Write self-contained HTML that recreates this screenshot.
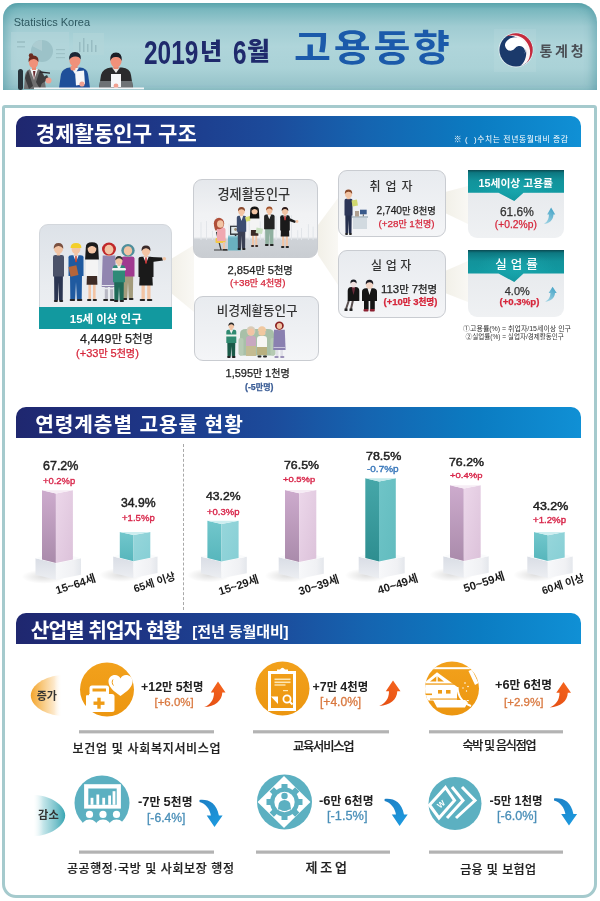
<!DOCTYPE html>
<html lang="ko"><head><meta charset="utf-8"><title>2019년 6월 고용동향</title>
<style>
*{box-sizing:border-box;margin:0;padding:0}
html,body{width:600px;height:901px;overflow:hidden;background:#fff}
body{position:relative;font-family:"Liberation Sans","Noto Sans CJK KR",sans-serif;color:#222}
.a{position:absolute}
.t{position:absolute;white-space:nowrap;line-height:1}
.kr{font-family:"Liberation Sans","Noto Sans CJK KR",sans-serif}
.hdr{left:3px;top:3px;width:594px;height:87px;border-radius:15px 19px 0 0;box-shadow:inset 9px 0 10px -5px rgba(60,140,152,0.45),inset -9px 0 10px -5px rgba(60,140,152,0.45);
 background:linear-gradient(to bottom,#5ea8af 0%,#78b7be 7%,#a0ccd2 27%,#afd5da 50%,#aad2d7 75%,#9ac6cc 92%,#93c1c8 100%);overflow:hidden}
.frame{left:2px;top:105px;width:595px;height:793px;border:3px solid #a5cacd;border-radius:3px 3px 14px 14px;background:#fff}
.bar{left:16px;width:565px;height:31px;border-radius:10px 10px 0 0;
 background:linear-gradient(to right,#1f276f 0%,#1e3585 22%,#1c4b9b 45%,#1564b0 62%,#0b7cc2 82%,#1090d5 100%)}
.pbox{border-radius:9px 9px 0 0;border:1px solid #d3d7dc;background:linear-gradient(to bottom,#dde2e8,#e9ecf0 60%,#eef0f3)}
.gbox{border-radius:9px;border:1.5px solid #c9ccd1;background:linear-gradient(to bottom,#e5e8ec 0%,#f1f2f4 45%,#f3f4f6 74%,#cfd3d8 77%,#c9cdd2 100%)}
.gbox2{border-radius:9px;border:1.5px solid #c9ccd1;background:linear-gradient(to bottom,#e8ebef 0%,#f4f5f7 100%)}
.rbox{border-radius:0 0 9px 9px;background:linear-gradient(to bottom,#e4e7eb,#eff1f3)}
.rhead{background:radial-gradient(ellipse 60% 80% at 50% 60%,rgba(40,190,195,0.35),rgba(40,190,195,0) 70%),linear-gradient(to bottom,#0a4a52 0%,#0d7881 9%,#12939b 35%,#1199a1 70%,#10929a 100%);clip-path:polygon(0 0,100% 0,100% 73.5%,57.8% 73.5%,48.2% 100%,31.8% 73.5%,0 73.5%)}
.vv{font-size:13px;font-weight:400;color:#222;-webkit-text-stroke:0.45px #222}
.vd{font-size:11px;font-weight:400;-webkit-text-stroke:0.35px currentColor}
.up{color:#d8264a}.dn{color:#3a78bb}
.lb{font-size:12px;color:#1a1a1a;font-weight:700;transform:rotate(-18deg);transform-origin:50% 50%}
.dg{font-size:1.1em}
.sw{-webkit-text-stroke:0.25px currentColor}
.nv{font-size:12px;font-weight:700;color:#222}
.pc{font-size:11px;-webkit-text-stroke:0.3px currentColor}
.po{color:#d9783f}.pb{color:#4a8fb8}
.il{font-size:13px;color:#222;-webkit-text-stroke:0.2px #222}
.bar .t{color:#fff;font-weight:700;font-size:20px;font-family:"Liberation Sans","Noto Sans CJK KR",sans-serif}
</style></head><body>

<!-- HEADER -->
<div class="a hdr">
<svg class="a" style="left:-3px;top:-3px" width="600" height="90">
 <!-- panels -->
 <rect x="11" y="32" width="58" height="38" fill="#b4d6da" opacity="0.55"/>
 <circle cx="42" cy="51" r="11" fill="#9cc2c8"/>
 <path d="M42,51 L42,40 A11,11 0 0,0 32,46 Z" fill="#acccd1"/>
 <rect x="17" y="41" width="8" height="2" fill="#9ec2c7"/><rect x="17" y="46" width="8" height="1.5" fill="#9ec2c7"/>
 <rect x="56" y="49" width="9" height="1.2" fill="#9ec2c7"/><rect x="56" y="53" width="9" height="1.2" fill="#9ec2c7"/><rect x="56" y="57" width="9" height="1.2" fill="#9ec2c7"/>
 <rect x="73" y="33" width="31" height="22" fill="#b2d5d9" opacity="0.6"/>
 <rect x="79" y="42" width="1.5" height="10" fill="#97bcc2"/><rect x="83" y="38" width="1.5" height="14" fill="#97bcc2"/><rect x="87" y="44" width="1.5" height="8" fill="#97bcc2"/><rect x="91" y="40" width="1.5" height="12" fill="#97bcc2"/><rect x="95" y="45" width="1.5" height="7" fill="#97bcc2"/>
 <!-- chair -->
 <rect x="18" y="69" width="5" height="21" rx="2.5" fill="#27333a"/>
 <!-- woman -->
 <path d="M24,89 L25,75 Q26,70 31,69 L37,69 Q43,70 44,76 L46,89 Z" fill="#6f6f70"/>
 <path d="M30,69 L34,80 L38,69 Z" fill="#f2f2f2"/>
 <path d="M33,71 L34,80 L35.5,71 Z" fill="#6a2a30"/>
 <path d="M28,70 L33,86 L29,89 L25,78 Z" fill="#3d3d3f"/>
 <path d="M40,70 L44,76 L40,89 L36,82 Z" fill="#3d3d3f"/>
 <rect x="32" y="64" width="4" height="6" fill="#e98a72"/>
 <ellipse cx="33.5" cy="62.5" rx="4.6" ry="5.5" fill="#f0917a"/>
 <path d="M28.5,62 Q28,55.5 33.5,55.5 Q39,55.5 38.5,62 Q36,58.5 33.5,59 Q30.5,59 28.5,62 Z" fill="#6b2b1f"/>
 <circle cx="31" cy="55.5" r="2.2" fill="#6b2b1f"/>
 <path d="M39,79 L47,75 L49,79 L41,84 Z" fill="#3d3d3f"/>
 <circle cx="48.5" cy="80.5" r="3" fill="#f0a090"/>
 <line x1="40" y1="72" x2="50" y2="73.2" stroke="#2a2a30" stroke-width="1.3"/>
 <!-- man 2 -->
 <path d="M59,88 L61,74 Q63,68 70,67.5 L80,67.5 Q87,68 88,74 L90,88 Z" fill="#1f4f99"/>
 <path d="M71,67.5 L75,74 L79,67.5 Z" fill="#f4f4f4"/>
 <rect x="72.5" y="62" width="5" height="6" fill="#e98a72"/>
 <ellipse cx="75" cy="60.5" rx="5.5" ry="6.3" fill="#f0917a"/>
 <path d="M69.3,60 Q68.5,52 75,52 Q81.5,52 80.8,59.5 Q79,56 75,56.5 Q71,56.5 69.3,60 Z" fill="#1c2634"/>
 <circle cx="73" cy="68" r="2.6" fill="#f0917a"/>
 <polygon points="75,71.5 84,70.5 85,84 76,85.5" fill="#f6f7f9"/>
 <circle cx="82" cy="84" r="2.6" fill="#f0a090"/>
 <!-- man 3 -->
 <path d="M99,88 L101,75 Q103,68 111,67.5 L122,67.5 Q130,68 131,75 L133,88 Z" fill="#2b2b2d"/>
 <path d="M99,88 L100,81 L132,81 L133,88 Z" fill="#6e7275"/>
 <path d="M112,67.5 L116,73 L120,67.5 Z" fill="#e9e9e9"/>
 <rect x="113.5" y="63" width="5" height="6" fill="#e98a72"/>
 <ellipse cx="116" cy="61" rx="5.6" ry="6.5" fill="#f0917a"/>
 <path d="M110.2,61 Q109.5,52.5 116,52.5 Q122.5,52.5 121.8,61 Q120,56.5 116,57 Q112,56.5 110.2,61 Z" fill="#1c1f27"/>
 <rect x="111" y="74" width="10" height="13" fill="#f6f7f9"/>
 <circle cx="116" cy="86" r="2.4" fill="#f0a090"/>
 <!-- table -->
 <rect x="34" y="87.5" width="110" height="1.8" fill="#f4f6f7"/>
</svg>
<div class="a" style="left:491px;top:26px;width:42px;height:43px;background:rgba(255,255,255,0.07)"></div>
<svg class="a" style="left:495px;top:29.4px" width="36" height="36" viewBox="-18 -18 36 36">
 <circle r="17.4" fill="#eef4f6" opacity="0.85"/>
 <circle r="16.6" fill="#1b3a6b"/>
 <path d="M-8.30,-14.38 A16.6,16.6 0 1 1 4.30,16.03 A17.39,17.39 0 0 0 -8.30,-14.38 Z" fill="#fbf4f4"/>
 <path d="M-9.52,-13.60 A16.6,16.6 0 0 1 10.67,12.72 A17.23,17.23 0 0 0 -9.52,-13.60 Z" fill="#c62a3c"/>
 <g transform="translate(-1,-1.7) rotate(35)"><path d="M-11,0 A11,11 0 0 1 11,0 A5.5,5.5 0 0 0 0,0 A5.5,5.5 0 0 1 -11,0 Z" fill="#fff"/></g>
</svg>
</div>
<div id="t1" class="t" style="left:13.65px;top:17.40px;font-size:11px;color:#2d5860">Statistics Korea</div>
<div id="t2" class="t" style="left:144.3px;top:35.5px;font-size:33.5px;font-weight:700;color:#1f2a6c;transform:scaleX(0.729);transform-origin:0 0">2019</div>
<div id="t2b" class="t kr" style="left:200px;top:40px;font-size:24px;font-weight:900;color:#1f2a6c;transform:scaleX(1.0);transform-origin:0 0">년</div>
<div id="t2c" class="t" style="left:232.5px;top:35.5px;font-size:33.5px;font-weight:700;color:#1f2a6c;transform:scaleX(0.729);transform-origin:0 0">6</div>
<div id="t2d" class="t kr" style="left:247px;top:38.6px;font-size:25.3px;font-weight:900;color:#1f2a6c;transform:scaleX(0.98);transform-origin:0 0">월</div>
<div id="t3" class="t kr" style="left:294px;top:31px;font-size:36.5px;font-weight:700;color:#1b5aaa;letter-spacing:2.5px;transform:scaleX(1.1);transform-origin:0 0">고용동향</div>
<div id="t4" class="t kr" style="left:539.50px;top:43.50px;font-size:14px;font-weight:700;color:#4a4f55;letter-spacing:2.7px">통계청</div>

<!-- FRAME -->
<div class="a frame"></div>

<div class="a bar" style="top:116px"><div id="t5" class="t" style="left:19.75px;top:6.50px;font-size:21.00px;letter-spacing:0.07px">경제활동인구 구조</div>
<div id="t6" class="t kr" style="left:437.80px;top:20.40px;font-size:7.8px;font-weight:400;letter-spacing:0.64px">※ (&nbsp;&nbsp;)수치는 전년동월대비 증감</div></div>

<!-- SECTION 1 -->
<svg class="a" style="left:0;top:150px" width="600" height="250">
 <defs>
  <linearGradient id="cn" x1="0" x2="1" y1="0" y2="0"><stop offset="0" stop-color="#f2f0e8"/><stop offset="1" stop-color="#f9f8f4"/></linearGradient>
 </defs>
 <polygon points="171,109 194,95 194,162 171,143" fill="url(#cn)"/>
 <polygon points="318,75 338,48 338,135 318,105" fill="url(#cn)"/>
 <polygon points="445,42 468,36 468,74 445,63" fill="url(#cn)"/>
 <polygon points="445,121 468,111 468,152 445,143" fill="url(#cn)"/>
</svg>

<div class="a pbox" style="left:39px;top:224px;width:133px;height:105px"></div>
<!-- PEOPLE1 -->
<svg class="a" style="left:0;top:0;pointer-events:none" width="600" height="400">
<path d="M54.1,275.4 L62.9,275.4 L62.7,300.5 L59.0,300.5 L58.5,282.5 L58.0,300.5 L54.3,300.5 Z" fill="#2b3552"/>
<rect x="53.9" y="300.0" width="4.0" height="2" rx="1" fill="#222"/>
<rect x="59.2" y="300.0" width="4.0" height="2" rx="1" fill="#222"/>
<path d="M53.0,276.4 L53.0,257.0 Q53.0,255.0 55.2,255.0 L61.8,255.0 Q64.0,255.0 64.0,257.0 L64.0,276.4 Z" fill="#4b5269"/>
<rect x="56.7" y="248.8" width="3.5" height="6.7" fill="#f2c4a4"/>
<ellipse cx="58.5" cy="248.8" rx="4.5" ry="5.0" fill="#f2c4a4"/>
<path d="M53.7,248.8 Q53.5,243.0 58.5,243.0 Q63.5,243.0 63.3,248.8 Q61.0,245.8 58.5,246.0 Q56.0,245.8 53.7,248.8 Z" fill="#7a5040"/>

<path d="M70.0,275.1 L82.0,275.1 L81.7,299.5 L76.8,299.5 L76.0,282.0 L75.2,299.5 L70.3,299.5 Z" fill="#1f5aa0"/>
<rect x="69.7" y="299.0" width="5.4" height="2" rx="1" fill="#222"/>
<rect x="76.9" y="299.0" width="5.4" height="2" rx="1" fill="#222"/>
<path d="M68.5,276.1 L68.5,257.2 Q68.5,255.2 71.5,255.2 L80.5,255.2 Q83.5,255.2 83.5,257.2 L83.5,276.1 Z" fill="#1f5aa0"/>
<path d="M73.3,255.2 L76.0,262.1 L78.7,255.2 Z" fill="#f4f4f4"/>
<path d="M75.3,255.7 L76.7,255.7 L76.9,261.5 L76.0,262.6 L75.1,261.5 Z" fill="#c23a2a"/>
<rect x="74.3" y="249.1" width="3.4" height="6.5" fill="#f2c4a4"/>
<ellipse cx="76.0" cy="249.1" rx="4.4" ry="4.9" fill="#f2c4a4"/>
<path d="M70.6,248.1 Q70.6,243.0 76.0,243.0 Q81.4,243.0 81.4,248.1 Z" fill="#f3cf2a"/>
<rect x="69.5" y="266" width="8" height="10" fill="#b5653a" transform="rotate(-12 73.5 271)"/>
<rect x="88.4" y="274.9" width="2.6" height="24.6" fill="#f2c4a4"/>
<rect x="93.0" y="274.9" width="2.6" height="24.6" fill="#f2c4a4"/>
<path d="M87.0,273.9 L97.0,273.9 L97.4,284.8 L86.6,284.8 Z" fill="#3d2b25"/>
<rect x="87.0" y="299.0" width="4.3" height="2" rx="1" fill="#222"/>
<rect x="92.7" y="299.0" width="4.3" height="2" rx="1" fill="#222"/>
<path d="M86.0,275.9 L86.0,256.8 Q86.0,254.8 88.4,254.8 L95.6,254.8 Q98.0,254.8 98.0,256.8 L98.0,275.9 Z" fill="#f4f4f4"/>
<rect x="90.3" y="248.7" width="3.5" height="6.6" fill="#f2c4a4"/>
<path d="M85.8,247.7 Q85.6,242.3 92.0,242.3 Q98.4,242.3 98.2,247.7 L98.9,259.5 L85.1,259.5 Z" fill="#1a1a1a"/>
<ellipse cx="92.0" cy="248.7" rx="4.4" ry="4.9" fill="#f2c4a4"/>
<path d="M87.3,248.7 Q87.1,243.0 92.0,243.0 Q96.9,243.0 96.7,248.7 Q94.5,245.7 92.0,246.0 Q89.5,245.7 87.3,248.7 Z" fill="#1a1a1a"/>

<rect x="104.8" y="285.0" width="3.1" height="14.5" fill="#b8b8c4"/>
<rect x="110.1" y="285.0" width="3.1" height="14.5" fill="#b8b8c4"/>
<path d="M102.7,255.6 L115.3,255.6 L116.3,287.0 L101.7,287.0 Z" fill="#9185b0"/>
<rect x="103.1" y="299.0" width="5.0" height="2" rx="1" fill="#222"/>
<rect x="109.8" y="299.0" width="5.0" height="2" rx="1" fill="#222"/>
<rect x="107.3" y="249.6" width="3.4" height="6.5" fill="#f2c4a4"/>
<ellipse cx="109.0" cy="249.1" rx="7.0" ry="6.5" fill="#c0282a"/>
<ellipse cx="109.0" cy="249.6" rx="4.4" ry="4.8" fill="#f2c4a4"/>
<rect x="101.5" y="288" width="15" height="1.2" fill="#e8e8f0"/><rect x="101.5" y="285" width="15" height="1" fill="#e8e8f0"/>
<path d="M122.8,275.5 L133.2,275.5 L132.9,298.5 L128.7,298.5 L128.0,282.0 L127.3,298.5 L123.1,298.5 Z" fill="#a39c7c"/>
<rect x="122.5" y="298.0" width="4.7" height="2" rx="1" fill="#222"/>
<rect x="128.8" y="298.0" width="4.7" height="2" rx="1" fill="#222"/>
<path d="M121.5,276.5 L121.5,258.5 Q121.5,256.5 124.1,256.5 L131.9,256.5 Q134.5,256.5 134.5,258.5 L134.5,276.5 Z" fill="#a03a90"/>
<rect x="126.4" y="250.8" width="3.2" height="6.2" fill="#f2c4a4"/>
<ellipse cx="128.0" cy="250.4" rx="6.7" ry="6.3" fill="#4f8f9c"/>
<ellipse cx="128.0" cy="250.8" rx="4.2" ry="4.6" fill="#f2c4a4"/>

<path d="M114.2,281.3 L123.8,281.3 L123.6,300.5 L119.6,300.5 L119.0,286.8 L118.4,300.5 L114.4,300.5 Z" fill="#1f6a58"/>
<rect x="114.0" y="300.0" width="4.3" height="2" rx="1" fill="#222"/>
<rect x="119.7" y="300.0" width="4.3" height="2" rx="1" fill="#222"/>
<path d="M113.0,282.3 L113.0,267.3 Q113.0,265.3 115.4,265.3 L122.6,265.3 Q125.0,265.3 125.0,267.3 L125.0,282.3 Z" fill="#2f8a78"/>
<path d="M116.8,265.3 L119.0,270.8 L121.2,265.3 Z" fill="#f4f4f4"/>
<rect x="117.6" y="260.5" width="2.7" height="5.3" fill="#f2c4a4"/>
<ellipse cx="119.0" cy="260.5" rx="3.5" ry="3.9" fill="#f2c4a4"/>
<path d="M115.3,260.5 Q115.1,256.0 119.0,256.0 Q122.9,256.0 122.7,260.5 Q121.0,258.2 119.0,258.3 Q117.0,258.2 115.3,260.5 Z" fill="#333"/>
<rect x="112" y="268" width="14" height="2.5" rx="1.2" fill="#f2f2f2"/>
<rect x="141.5" y="276.0" width="3.3" height="23.5" fill="#f2c4a4"/>
<rect x="147.2" y="276.0" width="3.3" height="23.5" fill="#f2c4a4"/>
<path d="M139.7,275.0 L152.3,275.0 L152.8,285.5 L139.2,285.5 Z" fill="#1a1a1a"/>
<rect x="139.7" y="299.0" width="5.4" height="2" rx="1" fill="#222"/>
<rect x="146.9" y="299.0" width="5.4" height="2" rx="1" fill="#222"/>
<path d="M138.5,277.0 L138.5,258.8 Q138.5,256.8 141.5,256.8 L150.5,256.8 Q153.5,256.8 153.5,258.8 L153.5,277.0 Z" fill="#1a1a1a"/>
<path d="M143.3,256.8 L146.0,263.4 L148.7,256.8 Z" fill="#f4f4f4"/>
<path d="M145.3,257.3 L146.7,257.3 L146.9,262.9 L146.0,264.0 L145.1,262.9 Z" fill="#c0282a"/>
<rect x="144.3" y="250.9" width="3.3" height="6.3" fill="#f2c4a4"/>
<ellipse cx="146.0" cy="250.9" rx="4.2" ry="4.7" fill="#f2c4a4"/>
<path d="M141.5,250.9 Q141.3,245.5 146.0,245.5 Q150.7,245.5 150.5,250.9 Q148.4,248.1 146.0,248.3 Q143.6,248.1 141.5,250.9 Z" fill="#3a2a2a"/>
<path d="M151,257 L162,257.5 L163,260.5 L152,262 Z" fill="#1a1a1a"/><circle cx="164.3" cy="258.8" r="1.8" fill="#f2c4a4"/>
</svg>
<!-- /PEOPLE1 -->
<div class="a" style="left:38.5px;top:307.2px;width:133.5px;height:21.6px;background:#12999f"></div>
<div id="t7" class="t kr" style="left:69.75px;top:314.20px;font-size:11.49px;font-weight:700;color:#fff;transform:none;transform-origin:0 0">15세 이상 인구</div>
<div id="t8" class="t sw" style="left:80.00px;top:332.75px;font-size:11.41px;color:#222;transform:none;transform-origin:0 0"><span class="dg">4,449</span>만 <span class="dg">5</span>천명</div>
<div id="t9" class="t sw" style="left:76.00px;top:347.75px;font-size:10.06px;color:#d6263b;transform:none;transform-origin:0 0"><span class="dg">(+33</span>만 <span class="dg">5</span>천명<span class="dg">)</span></div>

<div class="a gbox" style="left:193px;top:179px;width:125px;height:79px"></div>
<div id="t10" class="t kr" style="left:217.45px;top:187.80px;font-size:13.20px;color:#333;font-weight:500;transform:none;transform-origin:0 0">경제활동인구</div>
<div id="t11" class="t sw" style="left:227.50px;top:264.50px;font-size:10.19px;color:#222;transform:none;transform-origin:0 0"><span class="dg">2,854</span>만 <span class="dg">5</span>천명</div>
<div id="t12" class="t sw" style="left:230.00px;top:278.00px;font-size:8.90px;color:#d6263b;transform:none;transform-origin:0 0"><span class="dg">(+38</span>만 <span class="dg">4</span>천명<span class="dg">)</span></div>

<div class="a gbox2" style="left:194px;top:296px;width:125px;height:65px"></div>
<div id="t13" class="t kr" style="left:216.85px;top:305.20px;font-size:12.56px;color:#333;font-weight:500;transform:none;transform-origin:0 0">비경제활동인구</div>
<div id="t14" class="t sw" style="left:225.50px;top:367.50px;font-size:10.02px;font-weight:400;color:#222;transform:none;transform-origin:0 0"><span class="dg">1,595</span>만 <span class="dg">1</span>천명</div>
<div id="t15" class="t sw" style="left:245.00px;top:382.50px;font-size:8.01px;font-weight:700;color:#3b5d96;transform:none;transform-origin:0 0"><span class="dg">(-5</span>만명<span class="dg">)</span></div>

<div class="a gbox2" style="left:338px;top:170px;width:108px;height:67px"></div>
<div id="t16" class="t kr" style="left:369.50px;top:181.00px;font-size:12px;color:#333;letter-spacing:5.00px;font-weight:500">취업자</div>
<div id="t17" class="t sw" style="left:376.50px;top:206.25px;font-size:9.26px;color:#222;transform:none;transform-origin:0 0"><span class="dg">2,740</span>만 <span class="dg">8</span>천명</div>
<div id="t18" class="t sw" style="left:378.50px;top:219.00px;font-size:8.99px;color:#d6263b;transform:none;transform-origin:0 0"><span class="dg">(+28</span>만 <span class="dg">1</span>천명<span class="dg">)</span></div>

<div class="a gbox2" style="left:338px;top:250px;width:108px;height:68px"></div>
<div id="t19" class="t kr" style="left:371.10px;top:260.00px;font-size:12px;color:#333;letter-spacing:3.60px;font-weight:500">실업자</div>
<div id="t20" class="t sw" style="left:381.00px;top:283.50px;font-size:10.38px;color:#222;transform:none;transform-origin:0 0"><span class="dg">113</span>만 <span class="dg">7</span>천명</div>
<div id="t21" class="t sw" style="left:383.50px;top:296.50px;font-size:8.65px;font-weight:700;color:#d6263b;transform:none;transform-origin:0 0"><span class="dg">(+10</span>만 <span class="dg">3</span>천명<span class="dg">)</span></div>

<div class="a rbox" style="left:468px;top:170px;width:96px;height:68px"></div>
<div class="a rhead" style="left:468px;top:170px;width:96px;height:31px"></div>
<div id="t22" class="t kr" style="left:478.55px;top:177.75px;font-size:10.77px;font-weight:700;color:#fff;transform:none;transform-origin:0 0">15세이상 고용률</div>
<div id="t23" class="t sw" style="left:500.00px;top:207.00px;font-size:11.91px;color:#333;transform:none;transform-origin:0 0">61.6%</div>
<div id="t24" class="t sw" style="left:494.75px;top:220.00px;font-size:10.30px;color:#d6263b;transform:none;transform-origin:0 0">(+0.2%p)</div>

<div class="a rbox" style="left:468px;top:250px;width:96px;height:67px"></div>
<div class="a rhead" style="left:468px;top:250px;width:96px;height:32px"></div>
<div id="t25" class="t kr" style="left:495.25px;top:258.50px;font-size:12.5px;font-weight:500;color:#fff;letter-spacing:4.00px">실업률</div>
<div id="t26" class="t sw" style="left:504.75px;top:285.75px;font-size:10.97px;color:#333;transform:none;transform-origin:0 0">4.0%</div>
<div id="t27" class="t sw" style="left:499.50px;top:296.50px;font-size:9.63px;font-weight:700;color:#d6263b;transform:none;transform-origin:0 0">(+0.3%p)</div>

<svg class="a" style="left:0;top:0;pointer-events:none" width="600" height="400">
 <defs><linearGradient id="lbA" x1="0" y1="1" x2="0.6" y2="0"><stop offset="0" stop-color="#a8d8e6"/><stop offset="1" stop-color="#4aa6c8"/></linearGradient>
 <path id="aup2" d="M0,0 L7.5,10.8 L4.3,10.8 C4,19 -3,25 -13.8,25.5 C-8,23 -4,18.5 -4,10.8 L-7.2,10.8 Z"/></defs>
 <use href="#aup2" transform="translate(551.1,207.5) scale(0.55,0.65)" fill="url(#lbA)"/>
 <use href="#aup2" transform="translate(552.6,286.7) scale(0.55,0.59)" fill="url(#lbA)"/>
</svg>
<!-- PEOPLE2 -->
<svg class="a" style="left:0;top:0;pointer-events:none" width="600" height="400">
<rect x="200.5" y="222.2" width="1" height="17.8" fill="#e2e5e9"/>
<rect x="206.0" y="221.1" width="1" height="18.9" fill="#e2e5e9"/>
<rect x="211.9" y="230.8" width="1" height="9.2" fill="#e2e5e9"/>
<rect x="215.9" y="216.9" width="1" height="23.1" fill="#e2e5e9"/>
<rect x="221.7" y="227.8" width="1" height="12.2" fill="#e2e5e9"/>
<rect x="228.5" y="223.5" width="1" height="16.5" fill="#e2e5e9"/>
<rect x="233.5" y="223.4" width="1" height="16.6" fill="#e2e5e9"/>
<rect x="238.4" y="229.3" width="1" height="10.7" fill="#e2e5e9"/>
<rect x="243.7" y="216.4" width="1" height="23.6" fill="#e2e5e9"/>
<rect x="248.7" y="218.7" width="1" height="21.3" fill="#e2e5e9"/>
<rect x="254.3" y="230.8" width="1" height="9.2" fill="#e2e5e9"/>
<rect x="259.8" y="221.4" width="1" height="18.6" fill="#e2e5e9"/>
<rect x="264.2" y="231.4" width="1" height="8.6" fill="#e2e5e9"/>
<rect x="270.6" y="223.5" width="1" height="16.5" fill="#e2e5e9"/>
<rect x="275.6" y="216.2" width="1" height="23.8" fill="#e2e5e9"/>
<rect x="280.9" y="215.4" width="1" height="24.6" fill="#e2e5e9"/>
<rect x="285.6" y="217.6" width="1" height="22.4" fill="#e2e5e9"/>
<rect x="291.0" y="215.2" width="1" height="24.8" fill="#e2e5e9"/>
<rect x="297.2" y="230.2" width="1" height="9.8" fill="#e2e5e9"/>
<rect x="301.0" y="228.1" width="1" height="11.9" fill="#e2e5e9"/>
<rect x="307.9" y="224.1" width="1" height="15.9" fill="#e2e5e9"/>
<rect x="312.6" y="226.6" width="1" height="13.4" fill="#e2e5e9"/>
<path d="M216.5,232 L221,250 M214,250 L228,250" stroke="#3a3a3a" stroke-width="1.2" fill="none"/>
<rect x="215.5" y="238" width="10" height="5" rx="1" fill="#f2c84a"/>
<path d="M217,241 L217,230 Q217,227.5 220,227.5 L223,227.5 Q225.5,227.5 225.5,230 L225.5,241 Z" fill="#f0a8b0"/>
<rect x="223" y="242" width="2" height="8" fill="#f2c4a4"/><rect x="223" y="249" width="4" height="1.5" fill="#333"/>
<ellipse cx="219" cy="223.5" rx="5.2" ry="5.8" fill="#b0503a"/><ellipse cx="220.3" cy="224" rx="3.3" ry="3.8" fill="#f2c4a4"/><path d="M214.2,224 Q214,229 216,231 L218,228 Z" fill="#b0503a"/>
<rect x="228" y="235.8" width="13" height="14.7" fill="#6ab0c0"/><rect x="228" y="235.8" width="13" height="1.5" fill="#8fcad6"/>
<rect x="230" y="225.7" width="11.2" height="9.2" fill="#2f3338"/><rect x="231.2" y="226.9" width="8.8" height="6.6" fill="#dfe9ea"/><circle cx="235.6" cy="229.5" r="1.4" fill="#9a8a70"/><rect x="234.8" y="234.6" width="1.6" height="1.5" fill="#2f3338"/>
<path d="M237.7,230.7 L245.3,230.7 L245.1,248.5 L242.0,248.5 L241.5,235.8 L241.0,248.5 L237.9,248.5 Z" fill="#3a3f52"/>
<rect x="237.5" y="248.0" width="3.4" height="2" rx="1" fill="#222"/>
<rect x="242.1" y="248.0" width="3.4" height="2" rx="1" fill="#222"/>
<path d="M236.8,231.7 L236.8,217.7 Q236.8,215.7 238.7,215.7 L244.3,215.7 Q246.2,215.7 246.2,217.7 L246.2,231.7 Z" fill="#3c4d70"/>
<path d="M239.8,215.7 L241.5,220.9 L243.2,215.7 Z" fill="#f4f4f4"/>
<rect x="240.2" y="211.2" width="2.6" height="5.0" fill="#f2c4a4"/>
<ellipse cx="241.5" cy="211.2" rx="3.3" ry="3.7" fill="#f2c4a4"/>
<path d="M238.0,211.2 Q237.8,207.0 241.5,207.0 Q245.2,207.0 245.0,211.2 Q243.3,209.0 241.5,209.2 Q239.7,209.0 238.0,211.2 Z" fill="#8a4a30"/>
<rect x="245.5" y="216.5" width="6" height="4.5" fill="#d8e070" transform="rotate(-15 248.5 218.7)"/>
<rect x="252.0" y="229.0" width="1.9" height="16.5" fill="#f2c4a4"/>
<rect x="255.3" y="229.0" width="1.9" height="16.5" fill="#f2c4a4"/>
<path d="M251.0,228.0 L258.2,228.0 L258.4,235.8 L250.8,235.8 Z" fill="#3a2a25"/>
<rect x="251.0" y="245.0" width="3.1" height="2" rx="1" fill="#3a2a25"/>
<rect x="255.1" y="245.0" width="3.1" height="2" rx="1" fill="#3a2a25"/>
<path d="M250.3,230.0 L250.3,217.1 Q250.3,215.1 252.0,215.1 L257.1,215.1 Q258.9,215.1 258.9,217.1 L258.9,230.0 Z" fill="#f4f4f4"/>
<rect x="253.4" y="210.9" width="2.4" height="4.7" fill="#f2c4a4"/>
<path d="M250.3,210.2 Q250.2,206.5 254.6,206.5 Q259.0,206.5 258.9,210.2 L259.4,218.4 L249.8,218.4 Z" fill="#111"/>
<ellipse cx="254.6" cy="210.9" rx="3.1" ry="3.4" fill="#f2c4a4"/>
<path d="M251.4,210.9 Q251.2,207.0 254.6,207.0 Q258.0,207.0 257.8,210.9 Q256.3,208.9 254.6,209.0 Q252.9,208.9 251.4,210.9 Z" fill="#111"/>

<path d="M265.1,228.2 L273.5,228.2 L273.3,244.5 L269.8,244.5 L269.3,233.0 L268.8,244.5 L265.3,244.5 Z" fill="#90b0a0"/>
<rect x="264.9" y="244.0" width="3.8" height="2" rx="1" fill="#222"/>
<rect x="269.9" y="244.0" width="3.8" height="2" rx="1" fill="#222"/>
<path d="M264.1,229.2 L264.1,216.5 Q264.1,214.5 266.2,214.5 L272.4,214.5 Q274.6,214.5 274.6,216.5 L274.6,229.2 Z" fill="#242424"/>
<path d="M267.4,214.5 L269.3,219.2 L271.2,214.5 Z" fill="#f0f0f0"/>
<rect x="268.1" y="210.4" width="2.4" height="4.6" fill="#f2c4a4"/>
<ellipse cx="269.3" cy="210.4" rx="3.0" ry="3.4" fill="#f2c4a4"/>
<path d="M266.1,210.4 Q265.9,206.5 269.3,206.5 Q272.7,206.5 272.5,210.4 Q271.0,208.3 269.3,208.5 Q267.6,208.3 266.1,210.4 Z" fill="#a0502a"/>
<rect x="256" y="228" width="6.5" height="5.5" fill="#c8e0c0" transform="rotate(10 259 231)"/>
<rect x="282.1" y="229.6" width="2.1" height="16.9" fill="#f2c4a4"/>
<rect x="285.8" y="229.6" width="2.1" height="16.9" fill="#f2c4a4"/>
<path d="M281.0,228.6 L289.0,228.6 L289.3,236.5 L280.7,236.5 Z" fill="#1a1a1a"/>
<rect x="281.0" y="246.0" width="3.4" height="2" rx="1" fill="#222"/>
<rect x="285.6" y="246.0" width="3.4" height="2" rx="1" fill="#222"/>
<path d="M280.2,230.6 L280.2,217.3 Q280.2,215.3 282.1,215.3 L287.9,215.3 Q289.8,215.3 289.8,217.3 L289.8,230.6 Z" fill="#1a1a1a"/>
<path d="M283.3,215.3 L285.0,220.2 L286.7,215.3 Z" fill="#f4f4f4"/>
<path d="M284.3,215.8 L285.7,215.8 L285.9,219.8 L285.0,220.6 L284.1,219.8 Z" fill="#b02a2a"/>
<rect x="283.8" y="211.0" width="2.4" height="4.8" fill="#f2c4a4"/>
<ellipse cx="285.0" cy="211.0" rx="3.1" ry="3.5" fill="#f2c4a4"/>
<path d="M281.7,211.0 Q281.5,207.0 285.0,207.0 Q288.5,207.0 288.3,211.0 Q286.7,208.9 285.0,209.1 Q283.3,208.9 281.7,211.0 Z" fill="#2a1a1a"/>
<path d="M289.5,218 L296,221 L295,223 L289,221 Z" fill="#1a1a1a"/><circle cx="297" cy="221.5" r="1.4" fill="#f2c4a4"/>
<path d="M227.3,342.0 L235.3,342.0 L235.1,356.5 L231.8,356.5 L231.3,346.3 L230.8,356.5 L227.5,356.5 Z" fill="#1a5a48"/>
<rect x="227.1" y="356.0" width="3.6" height="2" rx="1" fill="#222"/>
<rect x="231.9" y="356.0" width="3.6" height="2" rx="1" fill="#222"/>
<path d="M226.3,343.0 L226.3,331.7 Q226.3,329.7 228.3,329.7 L234.3,329.7 Q236.3,329.7 236.3,331.7 L236.3,343.0 Z" fill="#2f8a70"/>
<path d="M229.5,329.7 L231.3,334.0 L233.1,329.7 Z" fill="#f2f2f2"/>
<rect x="230.2" y="326.0" width="2.1" height="4.2" fill="#f2c4a4"/>
<ellipse cx="231.3" cy="326.0" rx="2.7" ry="3.0" fill="#f2c4a4"/>
<path d="M228.4,326.0 Q228.3,322.5 231.3,322.5 Q234.3,322.5 234.2,326.0 Q232.8,324.2 231.3,324.3 Q229.8,324.2 228.4,326.0 Z" fill="#2a2a2a"/>
<rect x="224" y="334.5" width="15" height="2" rx="1" fill="#eef4ee"/>
<path d="M240,355.5 L240,334 Q240,329 246,329 L268,329 Q274,329 274,334 L274,355.5 Z" fill="#a8c0a8"/>
<rect x="238.5" y="338" width="5" height="17.5" rx="2" fill="#b6cbb4"/><rect x="270.5" y="338" width="5" height="17.5" rx="2" fill="#b6cbb4"/>
<rect x="246" y="345" width="10" height="11" fill="#c4bc92"/><path d="M246,346 L246,339 Q246,336 249,336 L253,336 Q256,336 256,339 L256,346 Z" fill="#c8a8c0"/>
<ellipse cx="251" cy="331" rx="4.4" ry="4.8" fill="#d8ccb8"/><ellipse cx="251" cy="332" rx="3.2" ry="3.6" fill="#f2c4a4"/>
<rect x="257" y="346" width="10" height="9" fill="#b8b080"/><path d="M257,347 L257,339 Q257,336 260,336 L264,336 Q267,336 267,339 L267,347 Z" fill="#f6f6f4"/>
<ellipse cx="262" cy="331" rx="4.2" ry="4.8" fill="#f0c8a0"/><path d="M257.9,331 Q258,334 259,335 L259,331 Z M266.1,331 Q266,334 265,335 L265,331 Z" fill="#c8c0b0"/>
<rect x="257.5" y="355.5" width="4" height="2" rx="1" fill="#2a2a2a"/><rect x="263" y="355.5" width="4" height="2" rx="1" fill="#2a2a2a"/>
<rect x="275.8" y="348.1" width="2.6" height="8.4" fill="#e0e0e8"/>
<rect x="280.4" y="348.1" width="2.6" height="8.4" fill="#e0e0e8"/>
<path d="M274.0,329.7 L284.8,329.7 L285.6,350.1 L273.2,350.1 Z" fill="#8a80b0"/>
<rect x="274.4" y="356.0" width="4.3" height="2" rx="1" fill="#9a90b8"/>
<rect x="280.1" y="356.0" width="4.3" height="2" rx="1" fill="#9a90b8"/>
<rect x="278.3" y="326.0" width="2.1" height="4.2" fill="#f2c4a4"/>
<ellipse cx="279.4" cy="325.7" rx="4.4" ry="4.1" fill="#8a2020"/>
<ellipse cx="279.4" cy="326.0" rx="2.7" ry="3.0" fill="#f2c4a4"/>
<rect x="273.5" y="347" width="12" height="1" fill="#c8c4dc"/>
<rect x="352" y="216" width="16" height="2" fill="#b8c4cc"/><rect x="353" y="218" width="14" height="11" fill="#d2dae0"/><rect x="355" y="211" width="4" height="5.5" fill="#b0a090"/><rect x="360" y="209.7" width="6.7" height="4.6" fill="#3a5a8a"/><rect x="362.8" y="214.3" width="1" height="2" fill="#555"/>
<path d="M345.3,214.5 L351.7,214.5 L351.5,233.5 L348.9,233.5 L348.5,220.0 L348.1,233.5 L345.5,233.5 Z" fill="#26304e"/>
<rect x="345.1" y="233.0" width="2.9" height="2" rx="1" fill="#222"/>
<rect x="349.0" y="233.0" width="2.9" height="2" rx="1" fill="#222"/>
<path d="M344.5,215.5 L344.5,200.7 Q344.5,198.7 346.1,198.7 L350.9,198.7 Q352.5,198.7 352.5,200.7 L352.5,215.5 Z" fill="#2c3658"/>
<rect x="347.1" y="193.9" width="2.7" height="5.3" fill="#f2c4a4"/>
<ellipse cx="348.5" cy="193.9" rx="3.5" ry="3.9" fill="#f2c4a4"/>
<path d="M344.8,193.9 Q344.6,189.5 348.5,189.5 Q352.4,189.5 352.2,193.9 Q350.4,191.6 348.5,191.8 Q346.6,191.6 344.8,193.9 Z" fill="#8a4a2a"/>
<rect x="352" y="200" width="5.5" height="6" fill="#d0d870" transform="rotate(-10 354.7 203)"/>
<path d="M349,300 L346,309 M353,300 L351,309" stroke="#5a5050" stroke-width="2" fill="none"/><rect x="344.5" y="308.5" width="3" height="2.5" fill="#222"/><rect x="349.5" y="308.5" width="3" height="2.5" fill="#222"/>
<path d="M347.7,301 L347.7,291 Q347.7,287 351.5,287 L355.5,287 Q359.3,287 359.3,291 L359.3,301 Z" fill="#151515"/><path d="M351.5,287 L353.5,295 L355.5,287 Z" fill="#6a2a3a"/>
<rect x="352.3" y="285" width="2.4" height="2.5" fill="#f0e0e0"/><ellipse cx="353.5" cy="283.5" rx="3" ry="3.6" fill="#f0e0e0"/><path d="M350.5,283.5 Q350,279.5 353.5,279.5 Q357,279.5 356.6,283.5 Q355,281.5 353.5,281.8 Q352,281.5 350.5,283.5 Z" fill="#1a1a22"/>
<rect x="364" y="300" width="4.6" height="9.5" fill="#151515"/><rect x="370.2" y="300" width="4.6" height="9.5" fill="#151515"/><rect x="363.5" y="309" width="5" height="2.5" rx="1" fill="#8a2030"/><rect x="369.8" y="309" width="5" height="2.5" rx="1" fill="#8a2030"/>
<path d="M362,301 L362,292 Q362,288.3 366,288.3 L373,288.3 Q377,288.3 377,292 L377,301 Z" fill="#151515"/><path d="M367.5,288.3 L369.5,295 L371.5,288.3 Z" fill="#f0f0f0"/>
<rect x="368.3" y="286" width="2.4" height="3" fill="#f2d4c4"/><ellipse cx="369.5" cy="284.5" rx="3.6" ry="4.3" fill="#f2d4c4"/><path d="M365.8,284.5 Q365.3,279.7 369.5,279.7 Q373.7,279.7 373.2,284.5 Q371.5,282 369.5,282.3 Q367.5,282 365.8,284.5 Z" fill="#1a1a22"/>
</svg>
<!-- /PEOPLE2 -->
<div id="t28" class="t kr" style="left:463.10px;top:325.60px;font-size:6.97px;color:#333">①고용률(%) = 취업자/15세이상 인구</div>
<div id="t29" class="t kr" style="left:465.60px;top:333.80px;font-size:6.56px;color:#333">②실업률(%) = 실업자/경제활동인구</div>
<div class="a bar" style="top:407px"><div id="t30" class="t" style="left:19.25px;top:7.75px;font-size:20.24px;letter-spacing:0.92px">연령계층별 고용률 현황</div></div>

<!-- SECTION 2 -->
<div class="a" style="left:183px;top:444px;width:0;height:166px;border-left:1.2px dashed #a8a8a8"></div>
<!-- BARS -->
<svg class="a" style="left:0;top:0;pointer-events:none" width="600" height="620">
<defs>
<linearGradient id="pkL" x1="0" y1="0" x2="0" y2="1"><stop offset="0" stop-color="#cdabcd"/><stop offset="1" stop-color="#aa8bab"/></linearGradient>
<linearGradient id="pkR" x1="0" y1="0" x2="1" y2="1"><stop offset="0" stop-color="#ecd7ea"/><stop offset="1" stop-color="#dcc2da"/></linearGradient>
<linearGradient id="cyL" x1="0" y1="0" x2="0" y2="1"><stop offset="0" stop-color="#72c7cc"/><stop offset="1" stop-color="#57b6bc"/></linearGradient>
<linearGradient id="cyR" x1="0" y1="0" x2="1" y2="1"><stop offset="0" stop-color="#97d6db"/><stop offset="1" stop-color="#86cfd5"/></linearGradient>
<linearGradient id="dtL" x1="0" y1="0" x2="0" y2="1"><stop offset="0" stop-color="#46a7a9"/><stop offset="1" stop-color="#2e8e90"/></linearGradient>
<linearGradient id="dtR" x1="0" y1="0" x2="1" y2="1"><stop offset="0" stop-color="#6fc4c7"/><stop offset="1" stop-color="#62bcbf"/></linearGradient>
<linearGradient id="pdL" x1="0" y1="0" x2="0" y2="1"><stop offset="0" stop-color="#d9dde5"/><stop offset="1" stop-color="#eceef2"/></linearGradient>
<linearGradient id="pdR" x1="0" y1="0" x2="1" y2="0"><stop offset="0" stop-color="#f7f8fa"/><stop offset="0.7" stop-color="#f0f1f4"/><stop offset="1" stop-color="#e4e7ec"/></linearGradient>
<radialGradient id="shd" cx="0.5" cy="0.5" r="0.5"><stop offset="0" stop-color="#000" stop-opacity="0.13"/><stop offset="1" stop-color="#000" stop-opacity="0"/></radialGradient>
</defs>
<ellipse cx="43.5" cy="576.7" rx="22" ry="7" fill="url(#shd)"/>
<polygon points="35.5,558.2 55.9,563.2 55.9,579.7 35.5,574.7" fill="url(#pdL)"/>
<polygon points="55.9,563.2 81.0,558.2 81.0,574.7 55.9,579.7" fill="url(#pdR)"/>
<polygon points="35.5,558.2 43.0,555.7 71.9,555.7 81.0,558.2 55.9,563.2" fill="#fafbfc"/>
<polygon points="42.0,490.3 55.9,493.5 55.9,562.9 42.0,559.4" fill="url(#pkL)"/>
<polygon points="55.9,493.5 72.9,490.3 72.9,559.4 55.9,562.9" fill="url(#pkR)"/>
<polygon points="42.0,490.3 72.9,490.3 55.9,493.5" fill="#f6ecf5"/>
<ellipse cx="121.2" cy="575.0" rx="22" ry="7" fill="url(#shd)"/>
<polygon points="113.2,556.5 133.5,561.5 133.5,578.0 113.2,573.0" fill="url(#pdL)"/>
<polygon points="133.5,561.5 157.5,556.5 157.5,573.0 133.5,578.0" fill="url(#pdR)"/>
<polygon points="113.2,556.5 120.8,554.0 149.3,554.0 157.5,556.5 133.5,561.5" fill="#fafbfc"/>
<polygon points="119.8,531.9 133.5,535.1 133.5,561.2 119.8,557.7" fill="url(#cyL)"/>
<polygon points="133.5,535.1 150.3,531.9 150.3,557.7 133.5,561.2" fill="url(#cyR)"/>
<polygon points="119.8,531.9 150.3,531.9 133.5,535.1" fill="#cdeef0"/>
<ellipse cx="209.0" cy="575.3" rx="22" ry="7" fill="url(#shd)"/>
<polygon points="201.0,556.8 221.4,561.8 221.4,578.3 201.0,573.3" fill="url(#pdL)"/>
<polygon points="221.4,561.8 246.8,556.8 246.8,573.3 221.4,578.3" fill="url(#pdR)"/>
<polygon points="201.0,556.8 208.4,554.3 237.6,554.3 246.8,556.8 221.4,561.8" fill="#fafbfc"/>
<polygon points="207.4,520.7 221.4,523.9 221.4,561.5 207.4,558.0" fill="url(#cyL)"/>
<polygon points="221.4,523.9 238.6,520.7 238.6,558.0 221.4,561.5" fill="url(#cyR)"/>
<polygon points="207.4,520.7 238.6,520.7 221.4,523.9" fill="#cdeef0"/>
<ellipse cx="286.7" cy="575.7" rx="22" ry="7" fill="url(#shd)"/>
<polygon points="278.7,557.2 299.1,562.2 299.1,578.7 278.7,573.7" fill="url(#pdL)"/>
<polygon points="299.1,562.2 323.8,557.2 323.8,573.7 299.1,578.7" fill="url(#pdR)"/>
<polygon points="278.7,557.2 286.0,554.7 315.3,554.7 323.8,557.2 299.1,562.2" fill="#fafbfc"/>
<polygon points="285.0,490.0 299.1,493.2 299.1,561.9 285.0,558.4" fill="url(#pkL)"/>
<polygon points="299.1,493.2 316.3,490.0 316.3,558.4 299.1,561.9" fill="url(#pkR)"/>
<polygon points="285.0,490.0 316.3,490.0 299.1,493.2" fill="#f6ecf5"/>
<ellipse cx="366.7" cy="575.3" rx="22" ry="7" fill="url(#shd)"/>
<polygon points="358.7,556.8 379.0,561.8 379.0,578.3 358.7,573.3" fill="url(#pdL)"/>
<polygon points="379.0,561.8 404.7,556.8 404.7,573.3 379.0,578.3" fill="url(#pdR)"/>
<polygon points="358.7,556.8 366.3,554.3 394.8,554.3 404.7,556.8 379.0,561.8" fill="#fafbfc"/>
<polygon points="365.3,478.3 379.0,481.5 379.0,561.5 365.3,558.0" fill="url(#dtL)"/>
<polygon points="379.0,481.5 395.8,478.3 395.8,558.0 379.0,561.5" fill="url(#dtR)"/>
<polygon points="365.3,478.3 395.8,478.3 379.0,481.5" fill="#c4eaeb"/>
<ellipse cx="451.3" cy="574.7" rx="22" ry="7" fill="url(#shd)"/>
<polygon points="443.3,556.2 463.8,561.2 463.8,577.7 443.3,572.7" fill="url(#pdL)"/>
<polygon points="463.8,561.2 488.7,556.2 488.7,572.7 463.8,577.7" fill="url(#pdR)"/>
<polygon points="443.3,556.2 451.0,553.7 479.7,553.7 488.7,556.2 463.8,561.2" fill="#fafbfc"/>
<polygon points="450.0,485.3 463.8,488.5 463.8,560.9 450.0,557.4" fill="url(#pkL)"/>
<polygon points="463.8,488.5 480.7,485.3 480.7,557.4 463.8,560.9" fill="url(#pkR)"/>
<polygon points="450.0,485.3 480.7,485.3 463.8,488.5" fill="#f6ecf5"/>
<ellipse cx="535.3" cy="574.9" rx="22" ry="7" fill="url(#shd)"/>
<polygon points="527.3,556.4 547.8,561.4 547.8,577.9 527.3,572.9" fill="url(#pdL)"/>
<polygon points="547.8,561.4 572.7,556.4 572.7,572.9 547.8,577.9" fill="url(#pdR)"/>
<polygon points="527.3,556.4 535.0,553.9 563.7,553.9 572.7,556.4 547.8,561.4" fill="#fafbfc"/>
<polygon points="534.0,532.0 547.8,535.2 547.8,561.1 534.0,557.6" fill="url(#cyL)"/>
<polygon points="547.8,535.2 564.7,532.0 564.7,557.6 547.8,561.1" fill="url(#cyR)"/>
<polygon points="534.0,532.0 564.7,532.0 547.8,535.2" fill="#cdeef0"/>
</svg>
<!-- /BARS -->
<div id="t31" class="t vv" style="left:42.80px;top:460.12px;font-size:12.70px;letter-spacing:0px;transform:scaleX(0.984);transform-origin:0 0">67.2%</div><div id="t32" class="t vd up" style="left:43.20px;top:476.45px;font-size:9.40px;letter-spacing:0px;transform:scaleX(1.004);transform-origin:0 0">+0.2%p</div>
<div id="t33" class="t vv" style="left:121.25px;top:498.05px;font-size:11.87px;letter-spacing:0px;transform:scaleX(1.029);transform-origin:0 0">34.9%</div><div id="t34" class="t vd up" style="left:122.05px;top:512.90px;font-size:9.46px;letter-spacing:0px;transform:scaleX(1.012);transform-origin:0 0">+1.5%p</div>
<div id="t35" class="t vv" style="left:206.40px;top:490.55px;font-size:11.52px;letter-spacing:0px;transform:scaleX(1.062);transform-origin:0 0">43.2%</div><div id="t36" class="t vd up" style="left:206.50px;top:508.14px;font-size:8.39px;letter-spacing:0px;transform:scaleX(1.135);transform-origin:0 0">+0.3%p</div>
<div id="t37" class="t vv" style="left:283.70px;top:459.71px;font-size:11.37px;letter-spacing:0px;transform:scaleX(1.085);transform-origin:0 0">76.5%</div><div id="t38" class="t vd up" style="left:282.85px;top:476.20px;font-size:7.92px;letter-spacing:0px;transform:scaleX(1.188);transform-origin:0 0">+0.5%p</div>
<div id="t39" class="t vv" style="left:366.25px;top:451.21px;font-size:11.03px;letter-spacing:0px;transform:scaleX(1.131);transform-origin:0 0">78.5%</div><div id="t40" class="t vd dn" style="left:367.40px;top:465.40px;font-size:8.34px;letter-spacing:0px;transform:scaleX(1.197);transform-origin:0 0">-0.7%p</div>
<div id="t41" class="t vv" style="left:448.70px;top:456.71px;font-size:11.37px;letter-spacing:0px;transform:scaleX(1.085);transform-origin:0 0">76.2%</div><div id="t42" class="t vd up" style="left:450.15px;top:472.35px;font-size:8.01px;letter-spacing:0px;transform:scaleX(1.188);transform-origin:0 0">+0.4%p</div>
<div id="t43" class="t vv" style="left:533.38px;top:501.95px;font-size:10.16px;letter-spacing:0px;transform:scaleX(1.222);transform-origin:0 0">43.2%</div><div id="t44" class="t vd up" style="left:532.87px;top:517.00px;font-size:8.25px;letter-spacing:0px;transform:scaleX(1.173);transform-origin:0 0">+1.2%p</div>
<div id="t45" class="t lb" style="left:55.00px;top:578.50px;font-size:11.08px">15~64세</div>
<div id="t46" class="t lb" style="left:133.00px;top:578.00px;font-size:10.48px">65세 이상</div>
<div id="t47" class="t lb" style="left:218.00px;top:579.50px;font-size:11.08px">15~29세</div>
<div id="t48" class="t lb" style="left:297.50px;top:579.50px;font-size:11.22px">30~39세</div>
<div id="t49" class="t lb" style="left:376.50px;top:578.50px;font-size:11.22px">40~49세</div>
<div id="t50" class="t lb" style="left:463.00px;top:576.50px;font-size:11.37px">50~59세</div>
<div id="t51" class="t lb" style="left:540.50px;top:579.00px;font-size:10.61px">60세 이상</div>
<div class="a bar" style="top:613px"><div id="t52" class="t" style="left:14.75px;top:8.25px;font-size:20.24px;letter-spacing:-0.97px">산업별 취업자 현황</div>
<div id="t53" class="t" style="left:176.25px;top:10.50px;font-size:15.06px;letter-spacing:-0.11px">[전년 동월대비]</div></div>

<!-- SECTION 3 -->
<svg class="a" style="left:0;top:650px" width="600" height="240">
 <defs>
  <linearGradient id="tabO" x1="0" x2="1" y1="0" y2="0"><stop offset="0" stop-color="#f3a42c"/><stop offset="0.35" stop-color="#f8c77a"/><stop offset="0.75" stop-color="#fde9cc"/><stop offset="1" stop-color="#fff" stop-opacity="0"/></linearGradient>
  <linearGradient id="tabB" x1="0" x2="1" y1="0" y2="0"><stop offset="0" stop-color="#fff" stop-opacity="0.3"/><stop offset="0.3" stop-color="#c5e6ea"/><stop offset="0.7" stop-color="#7cc4cd"/><stop offset="1" stop-color="#3aa6b3"/></linearGradient>
  <linearGradient id="cO" x1="0" x2="0" y1="0" y2="1"><stop offset="0" stop-color="#f2a11c"/><stop offset="1" stop-color="#ec9610"/></linearGradient>
  <linearGradient id="arO" gradientUnits="userSpaceOnUse" x1="-14" y1="26" x2="4" y2="0"><stop offset="0" stop-color="#e44d12"/><stop offset="1" stop-color="#f5651e"/></linearGradient>
  <linearGradient id="arB" gradientUnits="userSpaceOnUse" x1="-15" y1="-27" x2="4" y2="0"><stop offset="0" stop-color="#1c7fc4"/><stop offset="1" stop-color="#1d9be0"/></linearGradient>
  <path id="aup" d="M0,0 L7.5,10.8 L4.3,10.8 C4,19 -3,25 -13.8,25.5 C-8,23 -4,18.5 -4,10.8 L-7.2,10.8 Z"/>
  <path id="adn" d="M-15,-27 C-6,-28 2,-24 4.4,-11.4 L8.1,-11.4 L0,0 L-7.8,-11.4 L-3.6,-11.4 C-4.5,-18 -9,-23.5 -15,-25 Z"/>
 </defs>
 <!-- tabs -->
 <path d="M62,25 C45,26 30.8,35 30.8,45.5 C30.8,56 45,65 62,66 Z" fill="url(#tabO)"/>
 <path d="M33.6,144.8 C50,145.5 65.2,155 65.2,165.6 C65.2,176 50,185.7 33.6,186.4 Z" fill="url(#tabB)"/>
 <!-- orange circles -->
 <clipPath id="c1"><circle cx="107" cy="39.5" r="27"/></clipPath>
 <clipPath id="c3"><circle cx="452" cy="38.5" r="27"/></clipPath>
  <!-- icon 1: medical kit + heart -->
 <circle cx="107" cy="39.5" r="27" fill="url(#cO)"/>
 <g fill="#fff">
  <rect x="89.5" y="35.5" width="19.5" height="10" rx="2.5"/>
  <rect x="86" y="44" width="28.5" height="18" rx="2.5"/>
  <path d="M120.5,46 C114,41.5 108.5,37 108.5,31.5 C108.5,27.5 111.5,25 115,25 C117.5,25 119.5,26.5 120.5,28.5 C121.5,26.5 123.5,25 126,25 C129.5,25 132.5,27.5 132.5,31.5 C132.5,37 127,41.5 120.5,46 Z"/>
 </g>
 <rect x="92.5" y="38.5" width="13.5" height="3" fill="#ef9c16"/>
 <rect x="86" y="44" width="3" height="1.2" fill="#ef9c16"/>
 <rect x="93.5" y="51.5" width="11" height="3.4" fill="#ef9c16"/>
 <rect x="97.3" y="47.7" width="3.4" height="11" fill="#ef9c16"/>
 <path d="M113,29.5 C111.8,31 112,34 113.5,35.5" fill="none" stroke="#ef9c16" stroke-width="1"/>
 <!-- icon 2: clipboard -->
 <circle cx="282.5" cy="38.5" r="27" fill="url(#cO)"/>
 <rect x="269.5" y="22.5" width="25" height="37" fill="none" stroke="#fff" stroke-width="3"/>
 <path d="M277,24 L277,19.5 L280,19.5 Q282.5,16 285,19.5 L288,19.5 L288,24 Z" fill="#fff"/>
 <rect x="274.5" y="28.5" width="16" height="1.6" fill="#fde6b4"/>
 <rect x="274.5" y="31.5" width="16" height="1.6" fill="#fde6b4"/>
 <rect x="274.5" y="34.3" width="11" height="1.4" fill="#fde6b4"/>
 <path d="M271,46.5 L278,46.5 L278,54 Z" fill="#fff"/>
 <circle cx="287" cy="49" r="3.6" fill="none" stroke="#fff" stroke-width="1.8"/>
 <line x1="289.5" y1="51.5" x2="292.5" y2="54.5" stroke="#fff" stroke-width="2"/>
 <rect x="283" y="40" width="5" height="1.2" fill="#fde6b4"/>
 <!-- icon 3: house + food -->
 <circle cx="452" cy="38.5" r="27" fill="url(#cO)"/>
 <g clip-path="url(#c3)">
  <g fill="#fff">
   <rect x="432" y="17.2" width="38" height="2"/>
   <polygon points="423,34 437,22.3 457,36.8 457,50.5 423,50.5"/>
   <polygon points="433,50 469,50 465,57.5 437,57.5"/>
   <polygon points="468.5,21 472,19.5 478.5,33 475,35"/>
  </g>
  <g fill="#ef9c16">
   <polygon points="430,31.6 437,26 444,31.6"/>
   <rect x="436.3" y="26" width="1.4" height="6" fill="#fff"/>
   <rect x="423" y="33.4" width="34" height="1.3"/>
   <rect x="438" y="40" width="4" height="3.6"/><rect x="446" y="40" width="4.5" height="3.6"/>
   <rect x="425" y="43.5" width="7" height="1.6"/>
   <rect x="430" y="48.5" width="27" height="1.1"/>
  </g>
  <path d="M457.5,37 Q458,51 471,56" fill="none" stroke="#fff" stroke-width="2"/>
  <path d="M459.5,37 Q460.5,49 471,53.5" fill="none" stroke="#ef9c16" stroke-width="1"/>
  <g fill="#fff"><circle cx="465" cy="33" r="0.8"/><circle cx="468" cy="36.5" r="0.8"/><circle cx="463" cy="38" r="0.7"/><circle cx="466.5" cy="41" r="0.7"/></g>
 </g>
 <!-- icon 4: board + people -->
 <circle cx="102" cy="153" r="27.5" fill="#5cb0c1"/>
 <g fill="#fff">
  <circle cx="89.5" cy="178" r="8.5"/><circle cx="103" cy="178" r="8.5"/><circle cx="116.5" cy="178" r="8.5"/>
  <circle cx="89.5" cy="164.4" r="3.6"/><circle cx="103" cy="164.4" r="3.6"/><circle cx="116.5" cy="164.4" r="3.6"/>
  <rect x="84.1" y="134.2" width="36.8" height="24.4"/>
 </g>
 <rect x="88.3" y="138.5" width="28.4" height="16.3" fill="#5cb0c1"/>
 <g fill="#fff">
  <rect x="90.6" y="147.8" width="2.8" height="7"/><rect x="96.4" y="144.5" width="2.8" height="10.3"/><rect x="102.3" y="147.8" width="2.8" height="7"/><rect x="108.2" y="145.5" width="2.8" height="9.3"/><rect x="112.6" y="141.2" width="2.8" height="13.6"/>
 </g>
 <!-- icon 5: gear -->
 <circle cx="284.5" cy="152" r="27.5" fill="#5cb0c1"/>
 <polygon points="284,126 310.5,152 284,178 257.5,152" fill="#fff"/>
 <g fill="#5cb0c1">
  <circle cx="284.5" cy="152" r="14.5"/>
  <g id="teeth">
   <rect x="281.5" y="134" width="6" height="6"/><rect x="281.5" y="164" width="6" height="6"/>
   <rect x="266.5" y="149" width="6" height="6"/><rect x="296.5" y="149" width="6" height="6"/>
  </g>
  <use href="#teeth" transform="rotate(45 284.5 152)"/>
 </g>
 <circle cx="284.5" cy="152" r="10.2" fill="#fff"/>
 <g fill="#5cb0c1"><circle cx="284.5" cy="146" r="3.2"/><path d="M278,159.5 A6.5,7.5 0 0 1 291,159.5 Z"/><ellipse cx="284.5" cy="155.5" rx="6" ry="5.5"/></g>
 <!-- icon 6: money -->
 <circle cx="455" cy="153.5" r="26.5" fill="#5cb0c1"/>
 <g fill="none" stroke="#fff" stroke-width="3" stroke-linejoin="miter">
  <polygon points="445.5,137.5 454.5,150.5 439,168 429.5,155" />
  <polyline points="452,137 463,150.5 447,168"/>
  <polyline points="462,137 475,150.5 456,168"/>
 </g>
 <text x="441" y="157" font-family="Liberation Sans,sans-serif" font-weight="700" font-size="8" fill="#fff" transform="rotate(-40 441 154)" text-anchor="middle">W</text>
 <!-- arrows -->
 <use href="#aup" x="218" y="31.6" fill="url(#arO)"/>
 <use href="#aup" x="393" y="30.5" fill="url(#arO)"/>
 <use href="#aup" x="563.5" y="32" fill="url(#arO)"/>
 <use href="#adn" x="214.5" y="177" fill="url(#arB)"/>
 <use href="#adn" x="399.6" y="176" fill="url(#arB)"/>
 <use href="#adn" x="569" y="175.5" fill="url(#arB)"/>
 <!-- gray lines -->
 <rect x="79" y="80.2" width="135" height="3.2" fill="#b3b3b3"/>
 <rect x="253" y="80.2" width="136" height="3.2" fill="#b3b3b3"/>
 <rect x="429" y="80.2" width="134" height="3.2" fill="#b3b3b3"/>
 <rect x="79" y="200.5" width="135" height="3.2" fill="#b3b3b3"/>
 <rect x="256" y="200.5" width="134" height="3.2" fill="#b3b3b3"/>
 <rect x="429" y="200.5" width="134" height="3.2" fill="#b3b3b3"/>
</svg>
<div id="t54" class="t kr" style="left:36.70px;top:691.20px;font-size:10.99px;font-weight:700;color:#333;transform:none;transform-origin:0 0">증가</div>
<div id="t55" class="t kr" style="left:38.10px;top:810.40px;font-size:11.26px;font-weight:700;color:#333;transform:none;transform-origin:0 0">감소</div>

<div id="t56" class="t nv" style="left:141.00px;top:680.50px;font-size:11.30px;transform:none;transform-origin:0 0"><span class="dg">+12</span>만 <span class="dg">5</span>천명</div><div id="t57" class="t pc po" style="left:154.50px;top:697.00px;font-size:10.42px;transform:none;transform-origin:0 0"><span class="dg">[+6.0%]</span></div>
<div id="t58" class="t nv" style="left:312.50px;top:681.00px;font-size:11.33px;transform:none;transform-origin:0 0"><span class="dg">+7</span>만 <span class="dg">4</span>천명</div><div id="t59" class="t pc po" style="left:320.00px;top:696.00px;font-size:10.96px;transform:none;transform-origin:0 0"><span class="dg">[+4.0%]</span></div>
<div id="t60" class="t nv" style="left:495.00px;top:679.00px;font-size:11.62px;transform:none;transform-origin:0 0"><span class="dg">+6</span>만 <span class="dg">6</span>천명</div><div id="t61" class="t pc po" style="left:504.00px;top:697.00px;font-size:10.51px;transform:none;transform-origin:0 0"><span class="dg">[+2.9%]</span></div>
<div id="t62" class="t nv" style="left:138.00px;top:796.00px;font-size:11.78px;transform:none;transform-origin:0 0"><span class="dg">-7</span>만 <span class="dg">5</span>천명</div><div id="t63" class="t pc pb" style="left:147.00px;top:812.00px;font-size:11.05px;transform:none;transform-origin:0 0"><span class="dg">[-6.4%]</span></div>
<div id="t64" class="t nv" style="left:319.00px;top:795.00px;font-size:11.78px;transform:none;transform-origin:0 0"><span class="dg">-6</span>만 <span class="dg">6</span>천명</div><div id="t65" class="t pc pb" style="left:327.00px;top:809.50px;font-size:11.62px;transform:none;transform-origin:0 0"><span class="dg">[-1.5%]</span></div>
<div id="t66" class="t nv" style="left:489.50px;top:794.50px;font-size:11.48px;transform:none;transform-origin:0 0"><span class="dg">-5</span>만 <span class="dg">1</span>천명</div><div id="t67" class="t pc pb" style="left:497.00px;top:810.00px;font-size:11.51px;transform:none;transform-origin:0 0"><span class="dg">[-6.0%]</span></div>

<div id="t68" class="t il" style="left:72.50px;top:742.50px;font-size:12.00px;font-weight:500;letter-spacing:0.69px">보건업 및 사회복지서비스업</div>
<div id="t69" class="t il" style="left:293.00px;top:741.15px;font-size:12.26px;font-weight:500;letter-spacing:-1.22px">교육서비스업</div>
<div id="t70" class="t il" style="left:462.40px;top:740.30px;font-size:12.00px;font-weight:500;letter-spacing:-1.23px">숙박 및 음식점업</div>
<div id="t71" class="t il" style="left:66.90px;top:863.00px;font-size:12.00px;font-weight:500;letter-spacing:0.60px">공공행정·국방 및 사회보장 행정</div>
<div id="t72" class="t il" style="left:305.50px;top:861.00px;letter-spacing:2.75px;font-size:13px;font-weight:500">제조업</div>
<div id="t73" class="t il" style="left:460.15px;top:863.80px;font-size:12.00px;font-weight:500;letter-spacing:0.44px">금융 및 보험업</div>

</body></html>
